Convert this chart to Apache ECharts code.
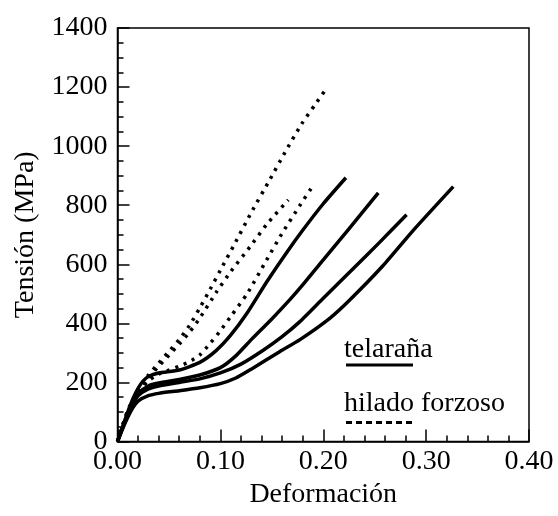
<!DOCTYPE html>
<html>
<head>
<meta charset="utf-8">
<script src="https://cdn.jsdelivr.net/npm/echarts@6/dist/echarts.min.js"></script>
<style>
html,body{margin:0;padding:0;background:#fff;}
#main{width:558px;height:516px;}
</style>
</head>
<body>
<div id="main"></div>
<script>
// x ticks / y ticks
const xTicks = [0, 0.1, 0.2, 0.3, 0.4];
const yTicks = [0, 200, 400, 600, 800, 1000, 1200, 1400];

// telaraña (solid) curves: [strain, stress MPa]
const telaranaA = [[0,0],[0.005,50],[0.01,100],[0.015,145],[0.02,180],[0.025,205],[0.03,220],[0.04,232],[0.06,242],[0.08,268],[0.095,305],[0.11,360],[0.126,435],[0.145,540],[0.1645,640],[0.18,715],[0.20,805],[0.222,893]];
const telaranaB = [[0,0],[0.005,48],[0.01,95],[0.015,135],[0.02,163],[0.03,188],[0.04,198],[0.06,210],[0.08,225],[0.10,250],[0.115,290],[0.13,345],[0.15,415],[0.168,482],[0.18,530],[0.20,615],[0.225,720],[0.2535,842]];
const telaranaC = [[0,0],[0.005,47],[0.01,90],[0.015,127],[0.02,155],[0.03,178],[0.04,188],[0.06,200],[0.08,212],[0.10,232],[0.12,262],[0.142,310],[0.16,355],[0.177,405],[0.20,485],[0.229,585],[0.255,675],[0.281,768]];
const telaranaD = [[0,0],[0.005,43],[0.01,82],[0.015,115],[0.02,137],[0.03,155],[0.04,163],[0.06,172],[0.08,182],[0.10,196],[0.115,215],[0.13,245],[0.158,305],[0.1774,345],[0.2066,418],[0.226,480],[0.258,595],[0.2875,715],[0.3264,863]];

// hilado forzoso (dotted) curves
const hiladoE = [[0,0],[0.005,55],[0.01,105],[0.02,175],[0.03,225],[0.04,265],[0.05,305],[0.06,345],[0.07,393],[0.08,452],[0.09,515],[0.10,580],[0.114,670],[0.13,775],[0.147,880],[0.163,980],[0.179,1075],[0.192,1140],[0.204,1200]];
const hiladoF = [[0,0],[0.005,55],[0.01,103],[0.02,170],[0.03,215],[0.04,255],[0.05,292],[0.06,330],[0.07,370],[0.08,418],[0.096,505],[0.11,575],[0.129,660],[0.145,735],[0.166,818]];
const hiladoG = [[0,0],[0.005,52],[0.01,100],[0.02,165],[0.03,205],[0.04,228],[0.05,242],[0.06,255],[0.07,270],[0.08,293],[0.09,332],[0.10,375],[0.11,423],[0.126,500],[0.145,615],[0.16,705],[0.1774,800],[0.19,866]];

const legendNames = ['telaraña', 'hilado forzoso'];

const FONT = 'Liberation Serif';
const solidStyle = {color:'#000', width:3.5, type:'solid', join:'round'};
const dotStyle = {color:'#000', width:3.5, type:[3,6], cap:'butt'};

function mk(data, style){
  return {type:'line', data:data, showSymbol:false, smooth:0.2,
    lineStyle:style, silent:true, animation:false};
}

const chart = echarts.init(document.getElementById('main'), null, {renderer:'canvas'});
chart.setOption({
  backgroundColor:'#fff',
  animation:false,
  grid:{left:117.5, right:29, top:28, bottom:74.5, show:true, borderColor:'#000', borderWidth:1.5, backgroundColor:'transparent'},
  xAxis:{
    type:'value', min:xTicks[0], max:xTicks[xTicks.length-1], interval:0.1,
    name:'Deformación', nameLocation:'middle', nameGap:34,
    nameTextStyle:{fontFamily:FONT, fontSize:28, color:'#000'},
    axisLine:{lineStyle:{color:'#000', width:1.5}},
    axisTick:{inside:true, length:12, lineStyle:{color:'#000', width:1.5}},
    minorTick:{show:true, splitNumber:5, length:6, lineStyle:{color:'#000', width:1.5}},
    splitLine:{show:false},
    axisLabel:{fontFamily:FONT, fontSize:28, color:'#000', margin:6, formatter:v=>v.toFixed(2)}
  },
  yAxis:{
    type:'value', min:yTicks[0], max:yTicks[yTicks.length-1], interval:200,
    name:'Tensión (MPa)', nameLocation:'middle', nameGap:78, nameRotate:90,
    nameTextStyle:{fontFamily:FONT, fontSize:28, color:'#000'},
    axisLine:{lineStyle:{color:'#000', width:1.5}},
    axisTick:{inside:true, length:12, lineStyle:{color:'#000', width:1.5}},
    minorTick:{show:true, splitNumber:4, length:6, lineStyle:{color:'#000', width:1.5}},
    splitLine:{show:false},
    axisLabel:{fontFamily:FONT, fontSize:28, color:'#000', margin:10, formatter:v=>String(v)}
  },
  series:[
    mk(telaranaA, solidStyle), mk(telaranaB, solidStyle), mk(telaranaC, solidStyle), mk(telaranaD, solidStyle),
    mk(hiladoE, dotStyle), mk(hiladoF, dotStyle), mk(hiladoG, dotStyle)
  ],
  graphic:[
    {type:'text', left:344, top:336, style:{text:legendNames[0], font:'28px "Liberation Serif"', fill:'#000'}},
    {type:'line', shape:{x1:346, y1:365, x2:413, y2:365}, style:{stroke:'#000', lineWidth:3}},
    {type:'text', left:344, top:390, style:{text:legendNames[1], font:'28px "Liberation Serif"', fill:'#000'}},
    {type:'line', shape:{x1:346, y1:422.5, x2:413, y2:422.5}, style:{stroke:'#000', lineWidth:3, lineDash:[6,4]}}
  ]
});
</script>
</body>
</html>
